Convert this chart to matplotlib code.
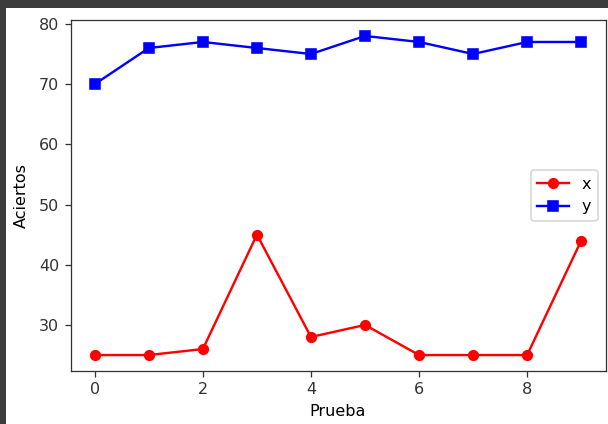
import numpy as np
import matplotlib.pyplot as plt
from matplotlib.patches import Rectangle

# resultados por prueba
prueba = list(range(10))
x = [25, 25, 26, 45, 28, 30, 25, 25, 25, 44]
y = [70, 76, 77, 76, 75, 78, 77, 75, 77, 77]

W, H = 608, 424
DPI = 115
fig = plt.figure(figsize=(W / DPI, H / DPI), dpi=DPI)
fig.patch.set_facecolor('#3c3c3c')
# fondo blanco de la salida
fig.patches.append(Rectangle((6 / W, 0), 1, (H - 8) / H, transform=fig.transFigure,
                             facecolor='white', edgecolor='none', zorder=-10))

ax = fig.add_axes([70.5 / W, (H - 371) / H, (605.5 - 70.5) / W, (371 - 20) / H])
ax.plot(prueba, x, 'ro-', label='x')
ax.plot(prueba, y, 'bs-', label='y')
ax.set_xlabel('Prueba')
ax.set_ylabel('Aciertos', labelpad=6)
for s in ax.spines.values():
    s.set_color('#333333')
ax.tick_params(colors='#333333')
ax.legend(loc='center right')

fig.savefig('out.png', dpi=DPI, facecolor=fig.get_facecolor())
